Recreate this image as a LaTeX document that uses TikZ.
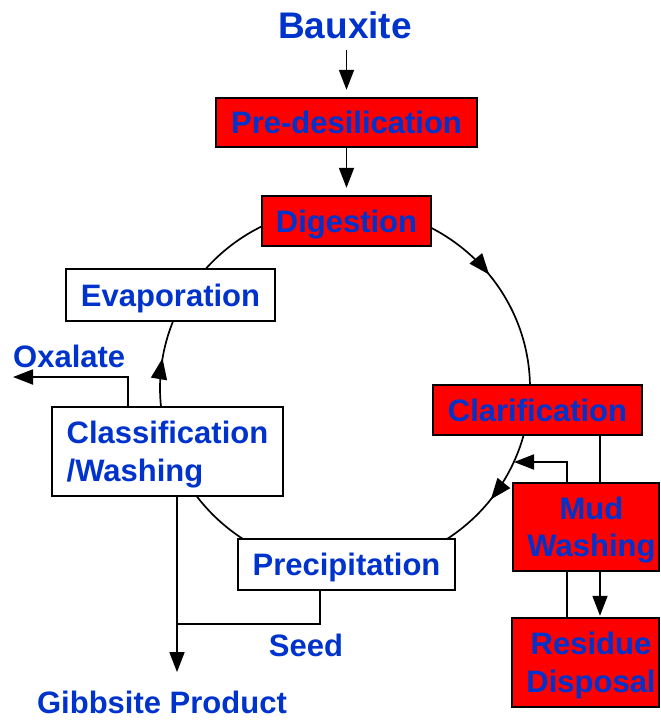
\documentclass[tikz,border=0pt]{standalone}
\usepackage{fontspec}
\setmainfont{Liberation Sans}
\usetikzlibrary{arrows.meta,calc,decorations.markings}
\definecolor{labelblue}{RGB}{0,51,204}
\definecolor{stagered}{RGB}{255,0,0}
\pgfdeclarelayer{background}
\pgfsetlayers{background,main}
\begin{document}
\begin{tikzpicture}[x=1pt,y=1pt,
  txt/.style={font=\fontsize{31}{37.5}\selectfont\bfseries, text=labelblue, inner sep=0pt, text depth=0pt},
  redbox/.style={txt, draw=black, line width=2.4pt, fill=stagered},
  whitebox/.style={txt, draw=black, line width=2.4pt, fill=white},
  flow/.style={line width=1.8pt},
  arr/.style={flow, -{Triangle[length=20pt,width=15pt]}},
  loopline/.style={line width=1.7pt},
  loopmark/.style={postaction={decorate}, decoration={markings,
      mark=at position #1 with {\arrow{Triangle[length=21pt,width=16pt]}}}}]
\useasboundingbox (0,0) rectangle (661,-721);

% stages
\node[txt, font=\fontsize{37}{40}\selectfont\bfseries] (bauxite) at (345,-25.5) {Bauxite};
\node[redbox, minimum width=261, minimum height=49] (pre) at (346.5,-122.5) {Pre-desilication};
\node[redbox, minimum width=169, minimum height=50] (dig) at (346.5,-221) {Digestion};
\node[whitebox, minimum width=209, minimum height=52] (evap) at (170.5,-295) {Evaporation};
\node[whitebox, minimum width=231, minimum height=89, align=left] (clas) at (167.5,-451.5) {Classification\\/Washing};
\node[redbox, minimum width=209, minimum height=50] (clar) at (537.5,-410) {Clarification};
\node[redbox, minimum width=146, minimum height=88, align=center] (mud) at (586,-527) {\hspace*{11pt}Mud\\\hspace*{11pt}Washing};
\node[redbox, minimum width=147, minimum height=89, align=center] (res) at (585.5,-662.5) {\hspace*{11pt}Residue\\\hspace*{11pt}Disposal};
\node[whitebox, minimum width=217, minimum height=51] (prec) at (346.5,-564.5) {Precipitation};

% stream labels
\node[txt, anchor=west] (oxalate) at (13,-356.5) {Oxalate};
\node[txt] (seed) at (306,-645) {Seed};
\node[txt] (gibbsite) at (162,-702.5) {Gibbsite Product};

% feed line
\draw[arr, shorten <=11pt, shorten >=7pt] (pre.north |- bauxite.south) -- (pre.north);
\draw[arr, shorten >=7pt] (pre.south) -- (dig.north);

% Bayer liquor loop
\coordinate (ctr) at (345,-388);
\begin{pgfonlayer}{background}
\draw[loopline, loopmark=0.39] ($(ctr)+(64:185pt and 181pt)$)
  arc[start angle=64, end angle=-1, x radius=185pt, y radius=181pt];
\draw[loopline, loopmark=0.556] ($(ctr)+(-14:185pt and 181pt)$)
  arc[start angle=-14, end angle=-57, x radius=185pt, y radius=181pt];
\draw[loopline] ($(ctr)+(-123:185pt and 181pt)$)
  arc[start angle=-123, end angle=-144, x radius=185pt, y radius=181pt];
\draw[loopline, loopmark=0.55] ($(ctr)+(186.5:185pt and 181pt)$)
  arc[start angle=186.5, end angle=157.5, x radius=185pt, y radius=181pt];
\draw[loopline] ($(ctr)+(139.5:185pt and 181pt)$)
  arc[start angle=139.5, end angle=116, x radius=185pt, y radius=181pt];
\end{pgfonlayer}

% residue circuit
\coordinate (mudret) at (514,-462);
\draw[flow] ([xshift=14pt]mud.north) -- ([xshift=14pt]mud.north |- clar.south);
\draw[arr] ([xshift=-19pt]mud.north) |- (mudret);
\draw[arr, shorten >=1pt] ([xshift=14pt]mud.south) -- ([xshift=14pt]mud.south |- res.north);
\draw[flow] ([xshift=-19pt]mud.south) -- ([xshift=-19pt]mud.south |- res.north);

% product side
\coordinate (oxend) at (13,-377);
\draw[arr] ([xshift=-39.5pt]clas.north) |- (oxend);
\draw[arr, shorten >=19pt] ([xshift=9.5pt]clas.south) -- ([xshift=9.5pt]clas.south |- gibbsite.north);
\coordinate (seedjoin) at ($(clas.south)+(9.5,-127)$);
\draw[flow] ([xshift=-26.5pt]prec.south) |- (seedjoin);
\end{tikzpicture}
\end{document}
